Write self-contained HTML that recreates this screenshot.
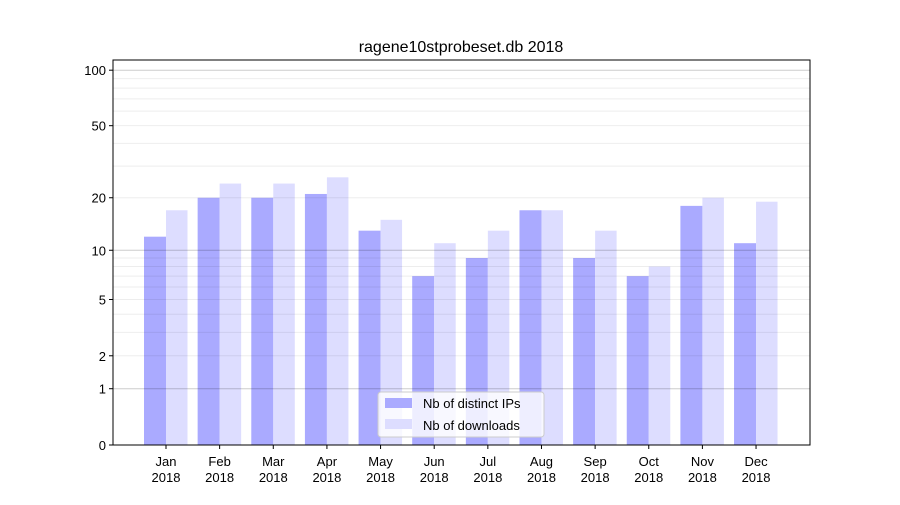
<!DOCTYPE html>
<html><head><meta charset="utf-8"><style>
body{margin:0;background:#fff;}
svg text{font-family:"Liberation Sans","DejaVu Sans",sans-serif;}
</style></head><body>
<svg id="chart" width="900" height="500" xmlns="http://www.w3.org/2000/svg">
<rect width="900" height="500" fill="#fff"/>
<text x="461" y="52" font-size="16" text-anchor="middle">ragene10stprobeset.db 2018</text>
<g id="bars"></g><g id="grid"></g><g id="axes"></g>
</svg>
<script>
const categories=["Jan","Feb","Mar","Apr","May","Jun","Jul","Aug","Sep","Oct","Nov","Dec"];
const distinctIPs=[12,20,20,21,13,7,9,17,9,7,18,11];
const downloads=[17,24,24,26,15,11,13,17,13,8,20,19];
const yTicks=[0,1,2,5,10,20,50,100];
const minorTicks=[3,4,6,7,8,9,30,40,60,70,80,90];
const NS="http://www.w3.org/2000/svg";
const L=113,R=810,T=60,B=445;
function y(v){return B-Math.log10(1+v)*187;}
function x(i){return 166+i*53.64;}
function mk(t,a,p){const e=document.createElementNS(NS,t);for(const k in a)e.setAttribute(k,a[k]);document.getElementById(p).appendChild(e);return e;}
minorTicks.forEach(v=>{const e=mk('line',{x1:L,x2:R,y1:y(v),y2:y(v),stroke:'#000','stroke-opacity':0.07,'stroke-width':1},'grid');

});
yTicks.forEach(v=>{const major=(v===1||v===10||v===100);
const e=mk('line',{x1:L,x2:R,y1:y(v),y2:y(v),stroke:'#000','stroke-opacity':major?0.2:0.07,'stroke-width':1},'grid');


const t=mk('line',{x1:L-4,x2:L,y1:y(v),y2:y(v),stroke:'#000'},'axes');


const l=mk('text',{x:L-7,y:y(v)+5,'font-size':13,'text-anchor':'end'},'axes');l.textContent=v;

});
categories.forEach((c,i)=>{
const b1=mk('rect',{x:x(i)-22,y:y(distinctIPs[i]),width:22,height:B-y(distinctIPs[i]),fill:'#aaaaff'},'bars');


const b2=mk('rect',{x:x(i),y:y(downloads[i]),width:21.5,height:B-y(downloads[i]),fill:'#ddddff'},'bars');


const t=mk('line',{x1:x(i),x2:x(i),y1:B,y2:B+4,stroke:'#000'},'axes');


const l=mk('text',{x:x(i),y:B+21,'font-size':13,'text-anchor':'middle'},'axes');


l.innerHTML='<tspan x="'+x(i)+'">'+c+'</tspan><tspan x="'+x(i)+'" dy="16">2018</tspan>';});
const f=mk('rect',{x:L,y:T,width:R-L,height:B-T,fill:'none',stroke:'#000','stroke-width':1},'axes');


const lg=mk('g',{},'axes');


lg.innerHTML='<rect x="378" y="392" width="166" height="45" rx="3" fill="#fff" fill-opacity="0.8" stroke="#ccc"/>'+
'<rect x="385" y="398" width="27" height="10" fill="#aaaaff"/>'+
'<text x="423" y="408" font-size="13">Nb of distinct IPs</text>'+
'<rect x="385" y="419" width="27" height="10" fill="#ddddff"/>'+
'<text x="423" y="430" font-size="13">Nb of downloads</text>';
</script>
</body></html>
